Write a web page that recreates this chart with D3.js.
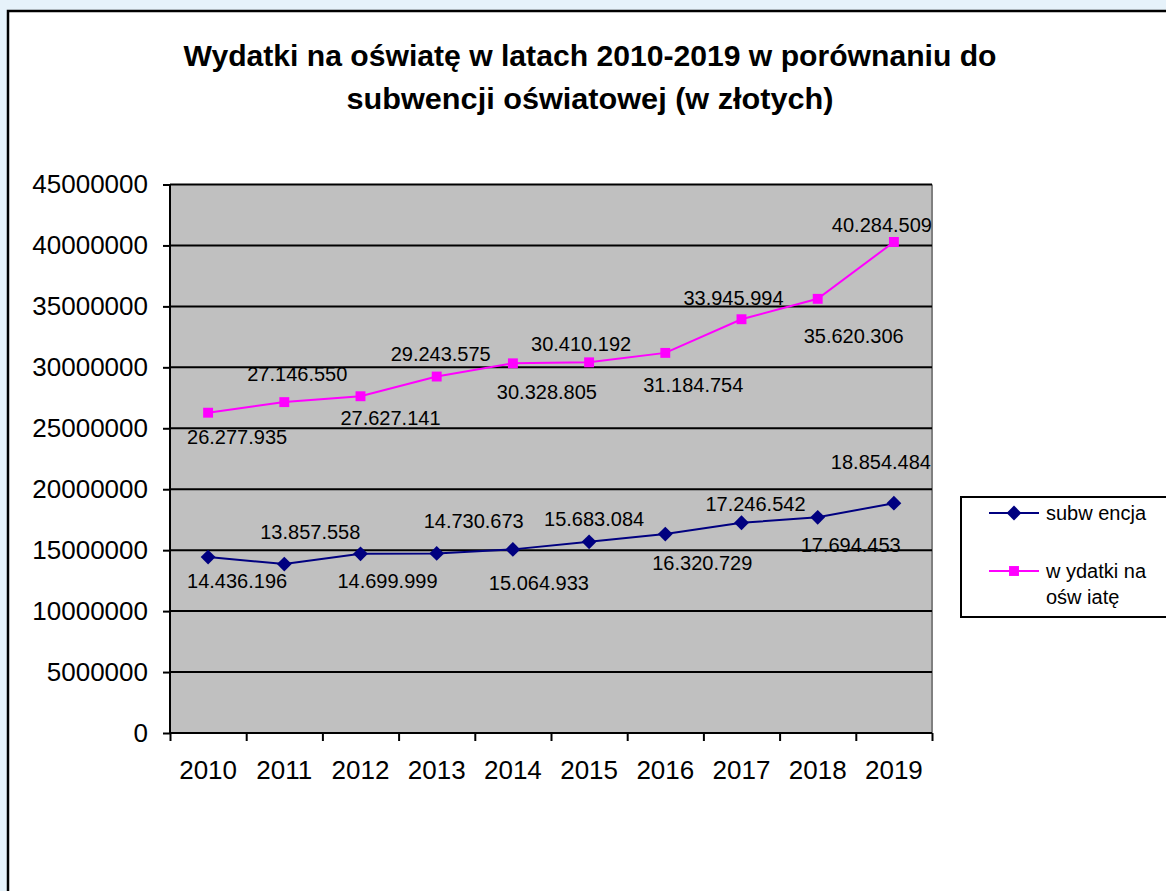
<!DOCTYPE html>
<html>
<head>
<meta charset="utf-8">
<script src="https://cdn.jsdelivr.net/npm/d3@7"></script>
<style>
	body { margin: 0; background: #e6f2fa; }
	svg { display: block; font-family: 'Liberation Sans', Arial, sans-serif; }
</style>
</head>
<body>
<svg id="chart" width="1166" height="891"></svg>
<script>
const years = ['2010', '2011', '2012', '2013', '2014', '2015', '2016', '2017', '2018', '2019'];
const subwencja = [14436196, 13857558, 14699999, 14730673, 15064933, 15683084, 16320729, 17246542, 17694453, 18854484];
const wydatki = [26277935, 27146550, 27627141, 29243575, 30328805, 30410192, 31184754, 33945994, 35620306, 40284509];
const labelsSubwencja = ['14.436.196', '13.857.558', '14.699.999', '14.730.673', '15.064.933', '15.683.084', '16.320.729', '17.246.542', '17.694.453', '18.854.484'];
const labelsWydatki = ['26.277.935', '27.146.550', '27.627.141', '29.243.575', '30.328.805', '30.410.192', '31.184.754', '33.945.994', '35.620.306', '40.284.509'];
const yTicks = [0, 5000000, 10000000, 15000000, 20000000, 25000000, 30000000, 35000000, 40000000, 45000000];
const seriesNames = ['subw encja', 'w ydatki na|ośw iatę'];

// label nudges (px) as they were dragged around in the original sheet
const nudgeSubwencja = [[29, 24], [26, -32], [27, 27], [37, -32], [26, 34], [5, -23], [37, 29], [14, -19], [33, 28], [-13, -41]];
const nudgeWydatki = [[29, 24], [13, -28], [30, 22], [4, -23], [34, 29], [-8, -18], [28, 32], [-8, -21], [36, 37], [-12, -17]];

const svg = d3.select('#chart');

// panel
svg.append('rect')
	.attr('x', 8).attr('y', 11)
	.attr('width', 1200).attr('height', 900)
	.attr('fill', '#ffffff')
	.attr('stroke', '#000000')
	.attr('stroke-width', 2.5);

const plotLeft = 170, plotRight = 932, plotTop = 184.5, plotBottom = 733;

const y = d3.scaleLinear().domain([0, 45000000]).range([plotBottom, plotTop]);
const x = d3.scaleBand().domain(years).range([plotLeft, plotRight]);
const xEdge = d3.scaleLinear().domain([0, years.length]).range([plotLeft, plotRight]);

// plot area
svg.append('rect')
	.attr('x', plotLeft).attr('y', plotTop)
	.attr('width', plotRight - plotLeft).attr('height', plotBottom - plotTop)
	.attr('fill', '#c0c0c0');

svg.append('line')
	.attr('x1', plotRight).attr('x2', plotRight)
	.attr('y1', plotTop).attr('y2', plotBottom)
	.attr('stroke', '#808080').attr('stroke-width', 2);

svg.append('g')
	.selectAll('line')
	.data(yTicks.slice(1))
	.join('line')
	.attr('x1', plotLeft).attr('x2', plotRight)
	.attr('y1', (d) => y(d)).attr('y2', (d) => y(d))
	.attr('stroke', '#000000')
	.attr('stroke-width', 2);

// y axis
const yAxis = svg.append('g')
	.attr('transform', `translate(${plotLeft},0)`)
	.call(d3.axisLeft(y).tickValues(yTicks).tickSize(7).tickPadding(15).tickFormat(d3.format('d')));
yAxis.selectAll('text').attr('font-size', 26).attr('fill', '#000000').attr('font-family', null);
yAxis.selectAll('line, path').attr('stroke', '#000000').attr('stroke-width', 2);
yAxis.select('.domain').attr('d', `M0,${plotTop}V${plotBottom}`);

// x axis: ticks on category edges, labels in the middle
const xAxis = svg.append('g')
	.attr('transform', `translate(0,${plotBottom})`)
	.call(d3.axisBottom(xEdge).tickValues(d3.range(years.length + 1)).tickSize(8).tickFormat(''));
xAxis.selectAll('line, path').attr('stroke', '#000000').attr('stroke-width', 2);
xAxis.select('.domain').attr('d', `M${plotLeft},0H${plotRight}`);

const xLabels = svg.append('g')
	.attr('transform', `translate(0,${plotBottom})`)
	.call(d3.axisBottom(x).tickSize(0).tickPadding(28));
xLabels.select('.domain').remove();
xLabels.selectAll('text').attr('font-size', 26).attr('fill', '#000000').attr('font-family', null);

// series
const cx = (i) => x(years[i]) + x.bandwidth() / 2;
const line = d3.line().x((d, i) => cx(i)).y((d) => y(d));

const series = [
	{ values: subwencja, labels: labelsSubwencja, nudge: nudgeSubwencja, color: '#000080', marker: d3.symbolDiamond2, size: 140 },
	{ values: wydatki, labels: labelsWydatki, nudge: nudgeWydatki, color: '#ff00ff', marker: d3.symbolSquare2, size: 125 },
];

series.forEach((s) => {
	svg.append('path')
		.datum(s.values)
		.attr('d', line)
		.attr('fill', 'none')
		.attr('stroke', s.color)
		.attr('stroke-width', 2);

	svg.append('g')
		.selectAll('path')
		.data(s.values)
		.join('path')
		.attr('d', d3.symbol().type(s.marker).size(s.size))
		.attr('transform', (d, i) => `translate(${cx(i)},${y(d)})`)
		.attr('fill', s.color);

	svg.append('g')
		.selectAll('text')
		.data(s.values)
		.join('text')
		.attr('x', (d, i) => cx(i) + s.nudge[i][0])
		.attr('y', (d, i) => y(d) + s.nudge[i][1])
		.attr('dy', '0.35em')
		.attr('text-anchor', 'middle')
		.attr('font-size', 20)
		.attr('fill', '#000000')
		.text((d, i) => s.labels[i]);
});

// title
svg.append('text')
	.attr('x', 590).attr('y', 66)
	.attr('text-anchor', 'middle')
	.attr('font-size', 29).attr('font-weight', 'bold')
	.attr('textLength', 813).attr('lengthAdjust', 'spacingAndGlyphs')
	.text('Wydatki na oświatę w latach 2010-2019 w porównaniu do');
svg.append('text')
	.attr('x', 590).attr('y', 109)
	.attr('text-anchor', 'middle')
	.attr('font-size', 29).attr('font-weight', 'bold')
	.attr('textLength', 487).attr('lengthAdjust', 'spacingAndGlyphs')
	.text('subwencji oświatowej (w złotych)');

// legend
const legend = svg.append('g');
legend.append('rect')
	.attr('x', 961).attr('y', 497)
	.attr('width', 260).attr('height', 120)
	.attr('fill', '#ffffff')
	.attr('stroke', '#000000')
	.attr('stroke-width', 2);

const legendY = [513, 571];
series.forEach((s, i) => {
	const g = legend.append('g').attr('transform', `translate(0,${legendY[i]})`);
	g.append('line')
		.attr('x1', 989).attr('x2', 1039)
		.attr('stroke', s.color).attr('stroke-width', 2);
	g.append('path')
		.attr('d', d3.symbol().type(s.marker).size(s.size))
		.attr('transform', 'translate(1014,0)')
		.attr('fill', s.color);
	g.append('text')
		.attr('x', 1046)
		.attr('font-size', 20)
		.attr('fill', '#000000')
		.selectAll('tspan')
		.data(seriesNames[i].split('|'))
		.join('tspan')
		.attr('x', 1046)
		.attr('dy', (d, j) => (j === 0 ? '0.35em' : '1.3em'))
		.text((d) => d);
});
</script>
</body>
</html>
